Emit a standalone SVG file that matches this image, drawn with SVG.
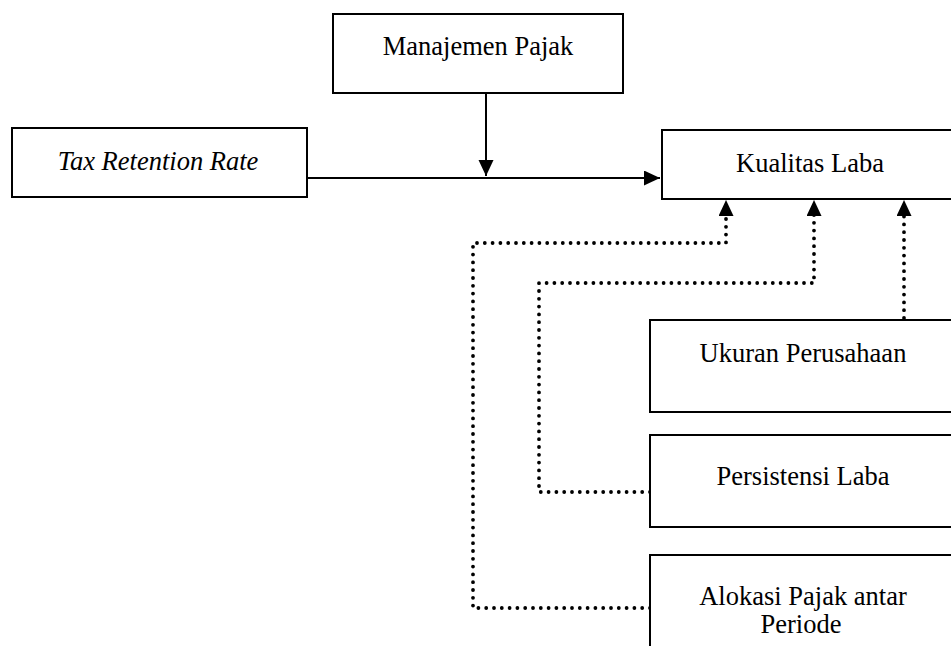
<svg xmlns="http://www.w3.org/2000/svg" width="951" height="646" viewBox="0 0 951 646">
  <style>
    .box { fill: #ffffff; stroke: #000000; stroke-width: 2; }
    .lbl { font-family: "Liberation Serif", "Times New Roman", serif; font-size: 26.5px; fill: #000000; text-anchor: middle; }
    .it { font-style: italic; }
    .solid { fill: none; stroke: #000000; stroke-width: 2; }
    .tip { fill: none; stroke: #000000; stroke-width: 0.1; }
    .dot { fill: none; stroke: #000000; stroke-width: 3.8; stroke-linecap: round; stroke-dasharray: 0 7.8; }
  </style>
  <defs>
    <marker id="arr" markerUnits="userSpaceOnUse" markerWidth="17" markerHeight="16" refX="16" refY="7.5" orient="auto">
      <path d="M0,0 L16,7.5 L0,15 Z" fill="#000000"/>
    </marker>
  </defs>
  <rect width="951" height="646" fill="#ffffff"/>

  <g id="connectors">
    <path class="solid" d="M307,178 H660" marker-end="url(#arr)"/>
    <path class="solid" d="M486,93 V176" marker-end="url(#arr)"/>
    <path class="dot" d="M650,608 H473 V243 H726 V214"/>
    <path class="tip" d="M726,214 V200" marker-end="url(#arr)"/>
    <path class="dot" d="M650,492 H539 V283 H814 V214"/>
    <path class="tip" d="M814,214 V200" marker-end="url(#arr)"/>
    <path class="dot" d="M904,318 V214"/>
    <path class="tip" d="M904,214 V200" marker-end="url(#arr)"/>
  </g>

  <g id="manajemen-pajak">
    <rect class="box" x="333" y="14" width="290" height="79"/>
    <text class="lbl" x="478" y="55">Manajemen Pajak</text>
  </g>
  <g id="tax-retention-rate">
    <rect class="box" x="12" y="128" width="295" height="69"/>
    <text class="lbl it" x="158" y="170">Tax Retention Rate</text>
  </g>
  <g id="kualitas-laba">
    <rect class="box" x="662" y="130" width="300" height="69"/>
    <text class="lbl" x="810" y="172">Kualitas Laba</text>
  </g>
  <g id="ukuran-perusahaan">
    <rect class="box" x="650" y="320" width="310" height="92"/>
    <text class="lbl" x="803" y="362">Ukuran Perusahaan</text>
  </g>
  <g id="persistensi-laba">
    <rect class="box" x="650" y="435" width="310" height="92"/>
    <text class="lbl" x="803" y="485">Persistensi Laba</text>
  </g>
  <g id="alokasi-pajak">
    <rect class="box" x="650" y="555" width="310" height="110"/>
    <text class="lbl" x="803" y="605">Alokasi Pajak antar</text>
    <text class="lbl" x="801" y="633">Periode</text>
  </g>
</svg>
